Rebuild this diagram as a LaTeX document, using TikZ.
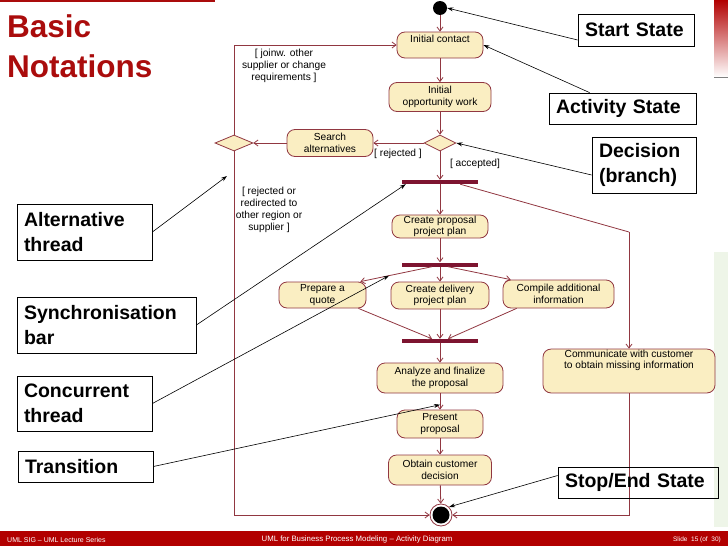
\documentclass[tikz,border=0pt]{standalone}
\usepackage{fontspec}
\setmainfont{Liberation Sans}
\usetikzlibrary{shapes.geometric,arrows.meta}
\definecolor{umlline}{RGB}{145,55,65}
\definecolor{umlfill}{RGB}{250,238,194}
\definecolor{umlbar}{RGB}{125,20,48}
\definecolor{slidered}{RGB}{178,0,0}
\definecolor{titlered}{RGB}{170,12,12}
\definecolor{palegreen}{RGB}{238,245,232}

\begin{document}
\begin{tikzpicture}[x=1pt,y=-1pt,
  flow/.style={draw=umlline,line width=.8pt,-{Straight Barb[length=4pt,width=6pt]}},
  every edge/.style={flow},
  callout/.style={draw=black,line width=.6pt,-{Stealth[length=6pt,width=4pt]}},
  act/.style={draw=umlline,fill=umlfill,line width=.8pt,rounded corners=8pt,align=center,
    inner sep=1pt,font=\fontsize{10.2}{11.5}\selectfont},
  guard/.style={align=center,inner sep=0pt,font=\fontsize{10.2}{12.2}\selectfont},
  branch/.style={diamond,draw=umlline,fill=umlfill,line width=.8pt,inner sep=0pt},
  syncbar/.style={fill=umlbar,minimum width=76pt,minimum height=4pt,inner sep=0pt},
  note/.style={draw=black,line width=.8pt,align=left,inner xsep=7pt,inner ysep=0pt,
    font=\fontsize{19.5}{24.5}\selectfont\bfseries},
  title/.style={text=titlered,inner sep=0pt,anchor=base west,font=\fontsize{31.5}{36}\selectfont\bfseries},
  foot/.style={text=white,inner sep=0pt}]

  \useasboundingbox (0,0) rectangle (728,546);

  \shade[top color=slidered,bottom color=white] (714,0) rectangle (728,77);
  \draw[gray] (714,77.5) -- (728,77.5);
  \fill[palegreen] (714,252) rectangle (728,527);
  \draw[titlered,line width=2pt] (0,1) -- (215,1);
  \fill[slidered] (0,531) rectangle (728,546);

  \node[title] (ttl1) at (7,37) {Basic};
  \node[title] (ttl2) at (7,77) {Notations};

  \node[foot,anchor=west,font=\fontsize{7}{8}\selectfont] (ft1) at (7,539.5) {UML SIG – UML Lecture Series};
  \node[foot,font=\fontsize{7.8}{9}\selectfont] (ft2) at (357,539) {UML for Business Process Modeling – Activity Diagram};
  \node[foot,anchor=east,font=\fontsize{6.5}{8}\selectfont] (ft3) at (721,539.5) {Slide\ \ 15 (of\ \ 30)};

  \node[circle,fill=black,minimum size=14pt,inner sep=0pt] (start) at (440,8) {};
  \node[act,minimum width=86pt,minimum height=26pt] (initc) at (440,45) {Initial contact\\\mbox{}};
  \node[act,minimum width=102pt,minimum height=29pt] (initopp) at (440,97) {Initial\\opportunity work};
  \node[branch,minimum width=32pt,minimum height=16pt] (dec) at (440,143) {};
  \node[act,minimum width=86pt,minimum height=27pt] (search) at (330,143) {Search\\alternatives};
  \node[branch,minimum width=38pt,minimum height=16pt] (ldec) at (234,143) {};
  \node[syncbar] (bar1) at (440,182) {};
  \node[act,minimum width=96pt,minimum height=23pt] (createp) at (440,226.5) {Create proposal\\project plan};
  \node[syncbar] (bar2) at (440,264.5) {};
  \node[act,minimum width=87pt,minimum height=26pt] (prep) at (322.5,295) {Prepare a\\quote};
  \node[act,minimum width=98pt,minimum height=27pt] (cdel) at (440,295.5) {Create delivery\\project plan};
  \node[act,minimum width=111pt,minimum height=28pt] (comp) at (558.5,294) {Compile additional\\information};
  \node[syncbar] (bar3) at (440,341) {};
  \node[act,minimum width=126pt,minimum height=30pt] (anal) at (440,378) {Analyze and finalize\\the proposal};
  \node[act,minimum width=172pt,minimum height=42pt] (comm) at (629,371)
    {Communicate with customer\\to obtain missing information\\\mbox{}\\\mbox{}};
  \node[act,minimum width=86pt,minimum height=28pt] (pres) at (440,424) {Present\\proposal};
  \node[act,minimum width=103pt,minimum height=30pt] (obt) at (440,470) {Obtain customer\\decision};
  \node[circle,draw=umlline,line width=.8pt,minimum size=22pt,inner sep=0pt] (endst) at (441,515) {};
  \node[circle,fill=black,minimum size=17pt,inner sep=0pt] (endcore) at (endst) {};
  \coordinate (bend) at (629,232);

  \node[guard] (g1) at (284,66) {[ joinw. other\\supplier or change\\requirements ]};
  \node[guard] (g2) at (269,210) {[ rejected or\\redirected to\\other region or\\supplier ]};
  \node[guard] (g3) at (398,154) {[ rejected ]};
  \node[guard] (g4) at (475,164) {[ accepted]};

  \path
   (start) edge (initc)
   (initc) edge (initopp)
   (initopp) edge (dec)
   (dec) edge (search)
   (search) edge (ldec)
   (dec) edge (bar1)
   (bar1) edge (createp)
   ([xshift=-18pt]bar1.south east) edge[-] (bend)
   (bend) edge (comm)
   (createp) edge (bar2)
   (bar2) edge (cdel)
   ([xshift=-8pt]bar2.south) edge node[coordinate,pos=.6] (concpt) {} ([xshift=-6pt]prep.north east)
   ([xshift=8pt]bar2.south) edge ([xshift=8pt]comp.north west)
   ([xshift=-8pt]prep.south east) edge ([xshift=-8pt]bar3.north)
   (cdel) edge (bar3)
   ([xshift=14pt]comp.south west) edge ([xshift=8pt]bar3.north)
   (bar3) edge (anal)
   (anal) edge node[coordinate,pos=.7] (transpt) {} (pres)
   (pres) edge (obt)
   (obt) edge (endst);
  \draw[flow] (ldec.north) |- (initc.west);
  \draw[flow] (ldec.south) |- (endst.west);
  \draw[flow] (comm.south) |- (endst.east);

  \node[note,text width=102pt,minimum height=32pt] (startnote) at (636,30) {Start State};
  \node[note,text width=133pt,minimum height=31pt] (actnote) at (622.5,108.5) {Activity State};
  \node[note,text width=90pt,minimum height=56pt] (decnote) at (644,165) {Decision\\(branch)};
  \node[note,text width=121pt,minimum height=56pt] (altnote) at (84.5,232) {Alternative\\thread};
  \node[note,text width=165pt,minimum height=56pt] (syncnote) at (106.5,325) {Synchronisation\\bar};
  \node[note,text width=121pt,minimum height=55pt] (concnote) at (84.5,403.5) {Concurrent\\thread};
  \node[note,text width=121pt,minimum height=31pt] (transnote) at (85.5,466.5) {Transition};
  \node[note,text width=146pt,minimum height=31pt] (stopnote) at (638,482.5) {Stop/End State};
  \coordinate (altpt) at (227,176);

  \path
   ([yshift=-10pt]startnote.west) edge[callout] (start.east)
   ([xshift=41pt]actnote.north west) edge[callout] (initc.east)
   ([yshift=-10pt]decnote.west) edge[callout] (dec.east)
   (altnote.east) edge[callout] (altpt)
   (syncnote.east) edge[callout] ([xshift=4pt]bar1.south west)
   (concnote.east) edge[callout] (concpt)
   (transnote.east) edge[callout] (transpt)
   ([yshift=7pt]stopnote.west) edge[callout] (endst.north east);
\end{tikzpicture}
\end{document}
